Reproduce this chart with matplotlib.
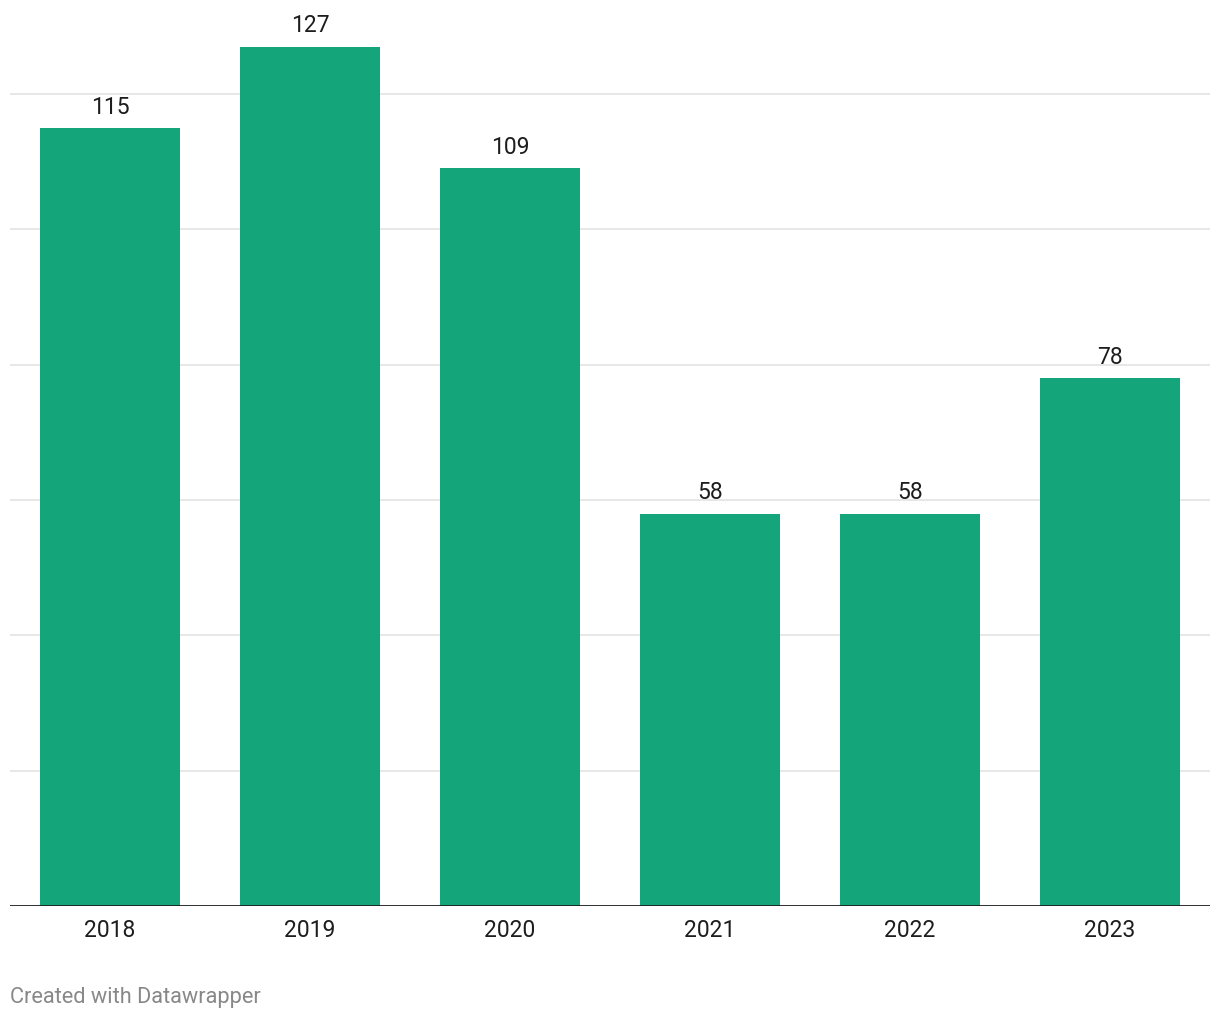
import matplotlib
matplotlib.use("Agg")
import matplotlib.pyplot as plt

plt.rcParams['font.family'] = ['Roboto', 'DejaVu Sans']

years = ["2018", "2019", "2020", "2021", "2022", "2023"]
values = [115, 127, 109, 58, 58, 78]
gridvals = [20, 40, 60, 80, 100, 120]

W, H = 1220, 1020
fig = plt.figure(figsize=(W/100, H/100), dpi=100)
ymax = 130
base_px = 907
px_per_unit = (base_px - 95) / 120.0
top_px = base_px - ymax * px_per_unit
ax = fig.add_axes([10/W, (H-base_px)/H, 1200/W, (base_px-top_px)/H])
ax.set_xlim(-0.5, len(years) - 0.5)
ax.set_ylim(0, ymax)

for g in gridvals:
    ax.axhline(g, color='#e3e3e3', lw=1.2, zorder=0)

x = list(range(len(years)))
ax.bar(x, values, width=0.7, color='#14a57a', zorder=2)
for xi, v in zip(x, values):
    ax.text(xi, v + 1.5, str(v), ha='center', va='bottom', fontsize=16.5, color='#1d1d1d')

ax.axhline(0, color='#1d1d1d', lw=2.0, zorder=3)
for s in ax.spines.values():
    s.set_visible(False)
ax.set_yticks([])
ax.set_xticks(x)
ax.set_xticklabels(years, fontsize=16.5, color='#1d1d1d')
ax.tick_params(axis='x', length=0, pad=9)

fig.text(10/W, 1 - 997.5/H, "Created with Datawrapper", ha='left', va='center', fontsize=15.7, color='#888888')

fig.savefig("out.png", dpi=100)
